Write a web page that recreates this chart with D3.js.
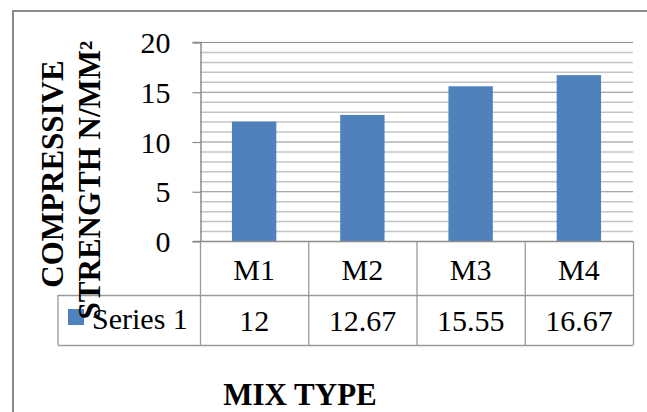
<!DOCTYPE html>
<html>
<head>
<meta charset="utf-8">
<script src="https://cdn.jsdelivr.net/npm/d3@7"></script>
<style>
  html, body { margin: 0; padding: 0; background: #fff; }
  svg { display: block; }
  text { font-family: "Liberation Serif", "Times New Roman", serif; fill: #000; }
</style>
</head>
<body>
<script>
// Compressive strength by mix type
const categories = ["M1", "M2", "M3", "M4"];
const seriesName = "Series 1";
const seriesValues = [12, 12.67, 15.55, 16.67];
const valueLabels = ["12", "12.67", "15.55", "16.67"];
const majorTicks = [0, 5, 10, 15, 20];
const minorTicks = [1, 2, 3, 4, 6, 7, 8, 9, 11, 12, 13, 14, 16, 17, 18, 19];
const yTitleLines = ["COMPRESSIVE", "STRENGTH N/MM²"];
const xTitle = "MIX TYPE";

const SERIF = "'Liberation Serif', 'Times New Roman', serif";
const W = 647, H = 412;
const svg = d3.select("body").append("svg").attr("width", W).attr("height", H);

const plot = { left: 200, right: 633, top: 42, bottom: 241 };
const rowH = 54, row2H = 50, tableLeft = 58;

const x = d3.scaleBand().domain(categories).range([plot.left, plot.right]);
const y = d3.scaleLinear().domain([0, 20]).range([plot.bottom, plot.top]);

// outer chart frame
svg.append("path")
  .attr("d", `M13,${H} V11 H${W}`)
  .attr("fill", "none").attr("stroke", "#8a8a8a").attr("stroke-width", 2);

// minor gridlines
svg.append("g").selectAll("line").data(minorTicks).join("line")
  .attr("x1", plot.left).attr("x2", plot.right)
  .attr("y1", d => y(d) + 0.5).attr("y2", d => y(d) + 0.5)
  .attr("stroke", "#c4c4c4").attr("stroke-width", 1.5);

// major gridlines
svg.append("g").selectAll("line").data(majorTicks).join("line")
  .attr("x1", plot.left).attr("x2", plot.right)
  .attr("y1", d => y(d) + 0.5).attr("y2", d => y(d) + 0.5)
  .attr("stroke", "#8c8c8c").attr("stroke-width", 1.2);

// bars
const barW = x.bandwidth() * 0.41;
svg.append("g").selectAll("rect").data(seriesValues).join("rect")
  .attr("x", (d, i) => x(categories[i]) + (x.bandwidth() - barW) / 2)
  .attr("y", d => y(d))
  .attr("width", barW)
  .attr("height", d => y(0) - y(d))
  .attr("fill", "#4F81BD");

// y axis
const yAxis = svg.append("g")
  .attr("transform", `translate(${plot.left + 0.5},0)`)
  .call(d3.axisLeft(y).tickValues(majorTicks).tickSize(8).tickPadding(22).tickFormat(d3.format("d")));
yAxis.attr("font-family", null).attr("font-size", null);
yAxis.select(".domain").attr("stroke", "#8c8c8c").attr("stroke-width", 1.5);
yAxis.selectAll(".tick line").attr("stroke", "#8c8c8c").attr("stroke-width", 1.2).attr("transform", "translate(0,0.5)");
yAxis.selectAll(".tick text")
  .style("font-family", SERIF)
  .style("font-size", "30px").attr("fill", "#000").attr("dy", "0.35em");

// data table below the plot
const tbl = svg.append("g").attr("stroke", "#9a9a9a").attr("stroke-width", 1.3).attr("fill", "none");
const bounds = categories.map(c => x(c)).concat([plot.right]);
tbl.selectAll("line.v").data(bounds).join("line")
  .attr("x1", d => d + 0.5).attr("x2", d => d + 0.5)
  .attr("y1", plot.bottom).attr("y2", plot.bottom + rowH + row2H);
tbl.append("line").attr("x1", tableLeft).attr("x2", tableLeft)
  .attr("y1", plot.bottom + rowH).attr("y2", plot.bottom + rowH + row2H);
tbl.append("line").attr("x1", plot.left).attr("x2", plot.right)
  .attr("y1", plot.bottom + 0.5).attr("y2", plot.bottom + 0.5).attr("stroke", "#8c8c8c");
[plot.bottom + rowH, plot.bottom + rowH + row2H].forEach(yy => {
  tbl.append("line").attr("x1", tableLeft).attr("x2", plot.right)
    .attr("y1", yy + 0.5).attr("y2", yy + 0.5);
});

svg.append("g").selectAll("text").data(categories).join("text")
  .attr("x", d => x(d) + x.bandwidth() / 2)
  .attr("y", plot.bottom + 39)
  .attr("text-anchor", "middle")
  .style("font-family", SERIF).style("font-size", "30px")
  .text(d => d);

svg.append("g").selectAll("text").data(valueLabels).join("text")
  .attr("x", (d, i) => x(categories[i]) + x.bandwidth() / 2)
  .attr("y", plot.bottom + rowH + 36)
  .attr("text-anchor", "middle")
  .style("font-family", SERIF).style("font-size", "30px")
  .text(d => d);

// legend key in the table
svg.append("rect")
  .attr("x", 68).attr("y", 309).attr("width", 16).attr("height", 16)
  .attr("fill", "#4F81BD");
svg.append("text")
  .attr("x", 92).attr("y", plot.bottom + rowH + 34)
  .style("font-family", SERIF).style("font-size", "30px")
  .text(seriesName);

// axis titles
const yTitlePos = [[63, 174], [100, 180]];
yTitleLines.forEach((t, i) => {
  svg.append("text")
    .attr("transform", `translate(${yTitlePos[i][0]},${yTitlePos[i][1]}) rotate(-90)`)
    .attr("text-anchor", "middle")
    .style("font-family", SERIF)
    .style("font-size", "31px").style("font-weight", "bold")
    .text(t);
});

svg.append("text")
  .attr("x", 300).attr("y", 405)
  .attr("text-anchor", "middle")
  .style("font-family", SERIF)
  .style("font-size", "31px").style("font-weight", "bold")
  .text(xTitle);
</script>
</body>
</html>
